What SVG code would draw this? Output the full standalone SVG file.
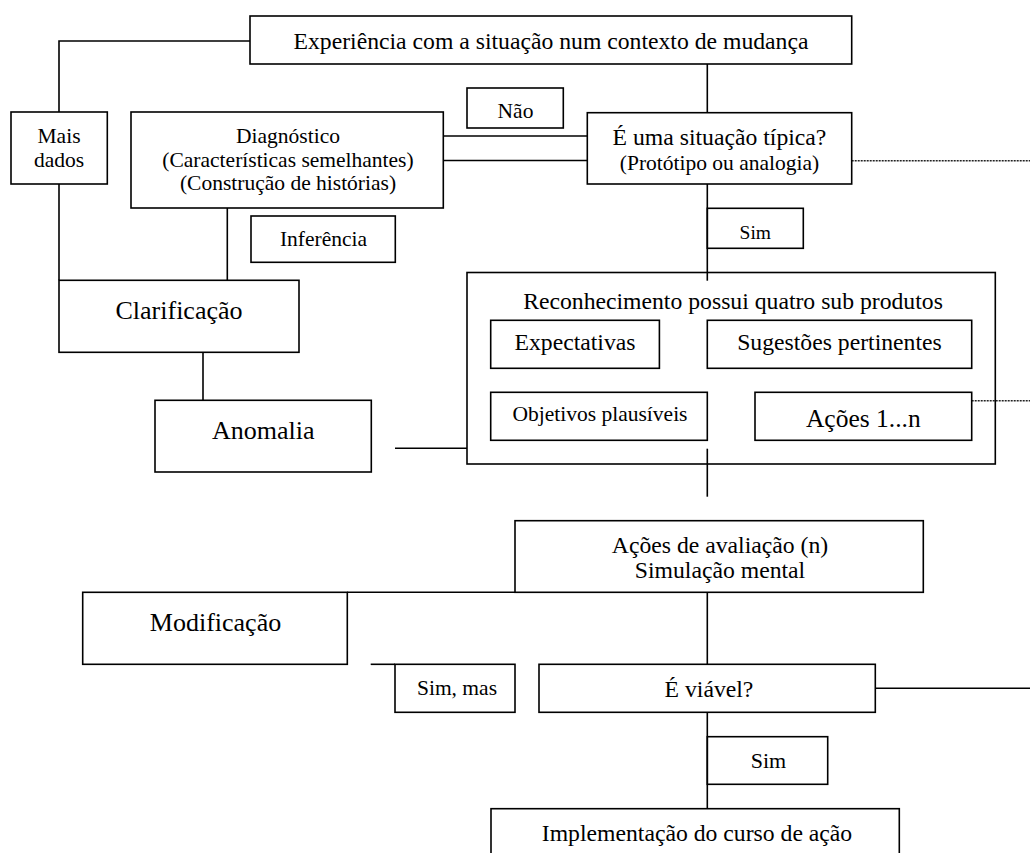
<svg xmlns="http://www.w3.org/2000/svg" width="1030" height="853" viewBox="0 0 1030 853">
  <style>
    .box { fill: none; stroke: #000; stroke-width: 1.6; }
    .ln { fill: none; stroke: #000; stroke-width: 1.6; }
    .dot { fill: none; stroke: #222; stroke-width: 1.6; stroke-dasharray: 2 1; }
    text { font-family: "Liberation Serif", "Times New Roman", serif; fill: #000; text-anchor: middle; }
    .s { font-size: 21.5px; }
    .m { font-size: 23.7px; }
    .l { font-size: 26px; }
  </style>
  <rect width="1030" height="853" fill="#fff"/>

  <g id="connectors">
    <polyline class="ln" points="250,41 59,41 59,112"/>
    <line class="ln" x1="59" y1="184" x2="59" y2="280.3"/>
    <line class="ln" x1="443.3" y1="136" x2="587.3" y2="136"/>
    <line class="ln" x1="443.3" y1="160.5" x2="587.3" y2="160.5"/>
    <line class="ln" x1="707.3" y1="64" x2="707.3" y2="112.7"/>
    <line class="ln" x1="707.3" y1="184" x2="707.3" y2="280.7"/>
    <line class="dot" x1="851.7" y1="160.7" x2="1030" y2="160.7"/>
    <line class="ln" x1="227.3" y1="208" x2="227.3" y2="280.3"/>
    <line class="ln" x1="203" y1="352.3" x2="203" y2="400.3"/>
    <line class="ln" x1="395" y1="448.3" x2="467" y2="448.3"/>
    <line class="dot" x1="971.7" y1="400.7" x2="1030" y2="400.7"/>
    <line class="ln" x1="707.3" y1="448.7" x2="707.3" y2="496.7"/>
    <line class="ln" x1="347.3" y1="592.3" x2="515" y2="592.3"/>
    <line class="ln" x1="707.3" y1="592.3" x2="707.3" y2="664.3"/>
    <line class="ln" x1="370.7" y1="664.3" x2="395" y2="664.3"/>
    <line class="ln" x1="875.3" y1="688.3" x2="1030" y2="688.3"/>
    <line class="ln" x1="707.3" y1="712.3" x2="707.3" y2="808.7"/>
  </g>

  <g id="experiencia">
    <rect class="box" x="250" y="16" width="601.7" height="48"/>
    <text class="m" x="551" y="49.3">Experiência com a situação num contexto de mudança</text>
  </g>

  <g id="mais-dados">
    <rect class="box" x="11" y="112" width="96.3" height="72"/>
    <text class="s" x="59" y="142.7">Mais</text>
    <text class="s" x="59" y="166.7">dados</text>
  </g>

  <g id="diagnostico">
    <rect class="box" x="131" y="112" width="312.3" height="96"/>
    <text class="s" x="288" y="142.7">Diagnóstico</text>
    <text class="s" x="288" y="166.7">(Características semelhantes)</text>
    <text class="s" x="288" y="190">(Construção de histórias)</text>
  </g>

  <g id="nao">
    <rect class="box" x="467" y="88" width="96.3" height="40"/>
    <text class="s" x="515.5" y="118.3">Não</text>
  </g>

  <g id="situacao-tipica">
    <rect class="box" x="587.3" y="112.7" width="264.4" height="71.3"/>
    <text class="m" x="719.5" y="145">É uma situação típica?</text>
    <text class="s" x="719.5" y="170">(Protótipo ou analogia)</text>
  </g>

  <g id="inferencia">
    <rect class="box" x="251" y="216" width="144.3" height="46.3"/>
    <text class="s" x="323.5" y="245.7">Inferência</text>
  </g>

  <g id="sim-tipica">
    <rect class="box" x="707.3" y="208.3" width="96" height="40"/>
    <text style="font-size:19.5px" x="755.3" y="238.7">Sim</text>
  </g>

  <g id="clarificacao">
    <rect class="box" x="59" y="280.3" width="240" height="72"/>
    <text class="l" x="179" y="319.3">Clarificação</text>
  </g>

  <g id="anomalia">
    <rect class="box" x="155" y="400.3" width="216.3" height="71.7"/>
    <text class="l" x="263.2" y="439">Anomalia</text>
  </g>

  <g id="reconhecimento">
    <rect class="box" x="467" y="272.5" width="528.3" height="191.5"/>
    <text class="m" x="733" y="309.3">Reconhecimento possui quatro sub produtos</text>
  </g>

  <g id="expectativas">
    <rect class="box" x="490.7" y="320.3" width="168.7" height="48"/>
    <text class="m" x="575" y="350">Expectativas</text>
  </g>

  <g id="sugestoes">
    <rect class="box" x="707.3" y="320.3" width="264.4" height="48"/>
    <text class="m" x="839.5" y="350">Sugestões pertinentes</text>
  </g>

  <g id="objetivos">
    <rect class="box" x="490.7" y="392.3" width="216.6" height="48"/>
    <text class="s" x="600" y="420.7">Objetivos plausíveis</text>
  </g>

  <g id="acoes">
    <rect class="box" x="755" y="392.3" width="216.7" height="48"/>
    <text style="font-size:25.5px" x="863.3" y="426.7">Ações 1...n</text>
  </g>

  <g id="avaliacao">
    <rect class="box" x="515" y="520.7" width="408.3" height="71.6"/>
    <text class="m" x="720" y="552.7">Ações de avaliação (n)</text>
    <text class="m" x="720" y="578.3">Simulação mental</text>
  </g>

  <g id="modificacao">
    <rect class="box" x="82.7" y="592.3" width="264.6" height="72"/>
    <text class="l" x="215.5" y="630.7">Modificação</text>
  </g>

  <g id="sim-mas">
    <rect class="box" x="395" y="664.3" width="120" height="48"/>
    <text class="s" x="457" y="695">Sim, mas</text>
  </g>

  <g id="viavel">
    <rect class="box" x="539" y="664.3" width="336.3" height="48"/>
    <text class="m" x="709" y="696.7">É viável?</text>
  </g>

  <g id="sim-viavel">
    <rect class="box" x="707.3" y="736.7" width="120.4" height="47.6"/>
    <text style="font-size:22px" x="768.5" y="768.3">Sim</text>
  </g>

  <g id="implementacao">
    <rect class="box" x="491" y="808.7" width="408.3" height="80"/>
    <text class="m" x="697" y="840.7">Implementação do curso de ação</text>
  </g>
</svg>
